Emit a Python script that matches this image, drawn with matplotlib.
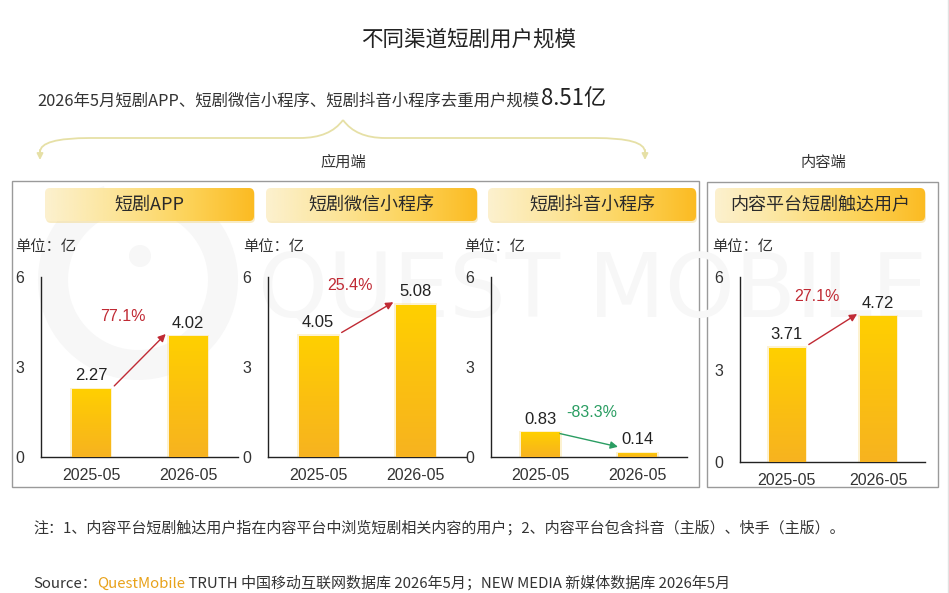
"""不同渠道短剧用户规模 - four small bar panels with growth arrows"""
import numpy as np
import matplotlib
matplotlib.use('Agg')
from matplotlib import pyplot as plt
from matplotlib.patches import FancyBboxPatch, Rectangle, Wedge, Circle, PathPatch
from matplotlib.path import Path
from matplotlib.colors import LinearSegmentedColormap

plt.rcParams['font.family'] = ['Noto Sans CJK SC', 'DejaVu Sans']
NUM_FONT = ['Liberation Sans', 'Noto Sans CJK SC', 'DejaVu Sans']

# ---- data ----
periods = ['2025-05', '2026-05']
panel_titles = ['短剧APP', '短剧微信小程序', '短剧抖音小程序', '内容平台短剧触达用户']
app_users = [2.27, 4.02]
wechat_users = [4.05, 5.08]
douyin_users = [0.83, 0.14]
content_users = [3.71, 4.72]
growth_labels = ['77.1%', '25.4%', '-83.3%', '27.1%']
yticks = [0, 3, 6]
unit_label = '单位：亿'
title = '不同渠道短剧用户规模'
subtitle = '2026年5月短剧APP、短剧微信小程序、短剧抖音小程序去重用户规模'
dedup_total = '8.51亿'
group_labels = ['应用端', '内容端']
note = '注：1、内容平台短剧触达用户指在内容平台中浏览短剧相关内容的用户；2、内容平台包含抖音（主版）、快手（主版）。'
source_parts = ['Source：', 'QuestMobile', ' TRUTH 中国移动互联网数据库 2026年5月；NEW MEDIA 新媒体数据库 2026年5月']

series = [app_users, wechat_users, douyin_users, content_users]

# ---- layout (pixels) ----
W, H = 949, 593
axes_px = [(41, 238, 277, 457), (268, 466, 277, 457),
           (491, 687, 277, 457), (740, 925, 277, 462)]
pill_px = [(45, 254), (266, 477), (488, 696), (715, 925)]
pill_top, pill_bot = 188, 221
unit_x = [15, 243, 464, 712]

TEXT = '#333333'
bar_cmap = LinearSegmentedColormap.from_list('bar', ['#FFD000', '#FBC010', '#F7B320'])
pill_cmap = LinearSegmentedColormap.from_list(
    'pill', ['#FCF1CF', '#FCE59A', '#FDD45C', '#FBBB22'])

fig = plt.figure(figsize=(W / 100, H / 100), dpi=100)
fig.patch.set_facecolor('white')

bg = fig.add_axes([0, 0, 1, 1], zorder=0)
bg.axis('off')

# watermark (very faint)
wm = '#F7F7F7'
bg.add_patch(Wedge((138, 280), 100, 300, 250, width=30, facecolor=wm,
                   edgecolor='none'))
bg.add_patch(Circle((140, 256), 11, facecolor=wm, edgecolor='none'))
bg.text(258, 292, 'QUEST MOBILE', fontsize=64, color=wm,
        family='DejaVu Sans', ha='left', va='center')

# titles
bg.text(469, 40, title, fontsize=15.5, color='#222222', ha='center', va='center')
t1 = bg.text(37, 106, subtitle, fontsize=11.8, color=TEXT, ha='left', va='baseline')
bg.annotate(dedup_total, xy=(1, 0), xycoords=t1, xytext=(1, 0),
            textcoords='offset points', fontsize=16, color='#222222',
            ha='left', va='bottom')

# brace with arrows
brace_c = '#E6E0A6'
left_half = Path([(40, 152), (40, 138), (90, 138), (300, 138),
                  (330, 138), (343, 120)],
                 [Path.MOVETO, Path.CURVE3, Path.CURVE3, Path.LINETO,
                  Path.CURVE3, Path.CURVE3])
right_half = Path([(645, 152), (645, 138), (595, 138), (385, 138),
                   (356, 138), (343, 120)],
                  [Path.MOVETO, Path.CURVE3, Path.CURVE3, Path.LINETO,
                   Path.CURVE3, Path.CURVE3])
for p in (left_half, right_half):
    bg.add_patch(PathPatch(p, facecolor='none', edgecolor=brace_c, lw=1.3))
for xa in (40, 645):
    bg.annotate('', xy=(xa, 160), xytext=(xa, 150),
                arrowprops=dict(arrowstyle='-|>', color=brace_c, lw=1.3,
                                mutation_scale=9, shrinkA=0, shrinkB=0))

bg.text(343, 162, group_labels[0], fontsize=11, color=TEXT, ha='center', va='center')
bg.text(823, 162, group_labels[1], fontsize=11, color=TEXT, ha='center', va='center')

# group boxes
bg.add_patch(Rectangle((12.5, 180.5), 687, 306, facecolor='none', edgecolor='#9A9A9A', lw=1))
bg.add_patch(Rectangle((707.5, 181.5), 231, 305, facecolor='none', edgecolor='#9A9A9A', lw=1))
bg.plot([948, 948], [0, H], color='#E2E2E2', lw=1)

# panel header pills
for (x0, x1), name in zip(pill_px, panel_titles):
    shadow = FancyBboxPatch((x0 + 1, pill_top + 2), x1 - x0, pill_bot - pill_top,
                            boxstyle='round,pad=0,rounding_size=5',
                            facecolor='#F3D98A', edgecolor='none', alpha=0.5)
    bg.add_patch(shadow)
    patch = FancyBboxPatch((x0, pill_top), x1 - x0, pill_bot - pill_top,
                           boxstyle='round,pad=0,rounding_size=5',
                           facecolor='none', edgecolor='none')
    bg.add_patch(patch)
    grad = np.linspace(0, 1, 256).reshape(1, -1)
    im = bg.imshow(grad, extent=(x0, x1, pill_bot, pill_top), cmap=pill_cmap,
                   aspect='auto', zorder=2)
    im.set_clip_path(patch)
    bg.text((x0 + x1) / 2, (pill_top + pill_bot) / 2, name, fontsize=13,
            color='#2A2A2A', ha='center', va='center', zorder=3)

for ux in unit_x:
    bg.text(ux, 247, unit_label, fontsize=11, color=TEXT, ha='left', va='center')

# footer
bg.text(33, 528, note, fontsize=10.8, color=TEXT, ha='left', va='center')
s0 = bg.text(33, 588, source_parts[0], fontsize=10.8, color=TEXT, ha='left', va='baseline')
s1 = bg.annotate(source_parts[1], xy=(1, 0), xycoords=s0, xytext=(0, 0),
                 textcoords='offset points', fontsize=10.8, color='#E8A21A',
                 ha='left', va='bottom')
bg.annotate(source_parts[2], xy=(1, 0), xycoords=s1, xytext=(0, 0),
            textcoords='offset points', fontsize=10.8, color=TEXT,
            ha='left', va='bottom')

bg.set_xlim(0, W)
bg.set_ylim(H, 0)

# ---- bar panels ----
bw = 0.4
for i, (vals, box) in enumerate(zip(series, axes_px)):
    left, right, top, bottom = box
    ax = fig.add_axes([left / W, 1 - bottom / H, (right - left) / W, (bottom - top) / H],
                      zorder=1)
    ax.patch.set_alpha(0)
    xs = np.arange(len(vals))
    bars = ax.bar(xs, vals, width=bw, color='none', edgecolor='none', zorder=3)
    for b, v in zip(bars, vals):
        x0 = b.get_x()
        ax.add_patch(Rectangle((x0 - 0.02, 0), bw + 0.04, v + 0.04,
                               facecolor='#FCE7A4', edgecolor='none', alpha=0.5, zorder=2))
        grad = np.linspace(0, 1, 256).reshape(-1, 1)
        im = ax.imshow(grad, extent=(x0, x0 + bw, 0, v), cmap=bar_cmap,
                       aspect='auto', origin='upper', zorder=3)
        im.set_clip_path(b)
        ax.annotate(f'{v:.2f}', xy=(b.get_x() + bw / 2, v), xytext=(0, 4),
                    textcoords='offset points', ha='center', va='bottom',
                    fontsize=12, color='#222222', family=NUM_FONT)

    up = vals[1] >= vals[0]
    col = '#C02A34' if up else '#2A9D62'
    if up:
        start, end = (0.24, vals[0] + 0.1), (0.77, vals[1] + 0.08)
        lx = 0.33
    else:
        start, end = (0.2, vals[0] - 0.05), (0.8, vals[1] + 0.2)
        lx = 0.53
    ax.annotate('', xy=end, xytext=start,
                arrowprops=dict(arrowstyle='-|>', color=col, lw=1,
                                mutation_scale=11, shrinkA=0, shrinkB=0), zorder=4)
    ax.text(lx, max(vals) + 0.65, growth_labels[i], fontsize=11.5, color=col,
            ha='center', va='center', family=NUM_FONT)

    ax.set_xlim(-0.515, 1.515)
    ax.set_ylim(0, 6)
    ax.set_yticks(yticks)
    ax.set_xticks(xs)
    ax.set_xticklabels(periods, family=NUM_FONT)
    ax.set_yticklabels([str(t) for t in yticks], family=NUM_FONT)
    ax.tick_params(axis='both', length=0, labelsize=11.5, colors=TEXT)
    ax.tick_params(axis='y', pad=12)
    ax.tick_params(axis='x', pad=8)
    for s in ('top', 'right'):
        ax.spines[s].set_visible(False)
    for s in ('left', 'bottom'):
        ax.spines[s].set_color('#222222')
        ax.spines[s].set_linewidth(1)

fig.savefig('out.png', dpi=100, facecolor='white')
